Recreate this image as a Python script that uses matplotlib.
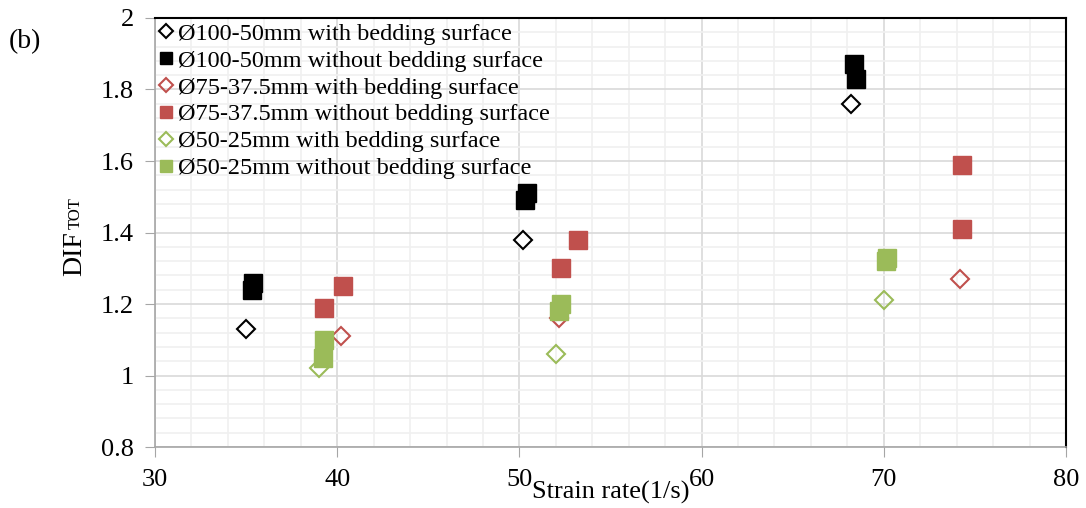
import matplotlib.pyplot as plt
from matplotlib.ticker import MultipleLocator, FuncFormatter

plt.rcParams['font.family'] = ['Liberation Serif', 'DejaVu Serif']

# strain rate (1/s) and DIF_TOT
x_100_with = [35.0, 50.2, 68.2]
y_100_with = [1.13, 1.38, 1.76]
x_100_without = [35.3, 35.4, 50.3, 50.4, 68.35, 68.45]
y_100_without = [1.24, 1.26, 1.49, 1.51, 1.87, 1.83]

x_75_with = [40.2, 52.2, 74.2]
y_75_with = [1.11, 1.16, 1.27]
x_75_without = [39.3, 40.3, 52.3, 53.2, 74.3, 74.3]
y_75_without = [1.19, 1.25, 1.30, 1.38, 1.59, 1.41]

x_50_with = [39.0, 52.0, 70.0]
y_50_with = [1.02, 1.06, 1.21]
x_50_without = [39.2, 39.3, 52.2, 52.3, 70.1, 70.2]
y_50_without = [1.05, 1.10, 1.18, 1.20, 1.32, 1.33]

labels = ['Ø100-50mm with bedding surface',
          'Ø100-50mm without bedding surface',
          'Ø75-37.5mm with bedding surface',
          'Ø75-37.5mm without bedding surface',
          'Ø50-25mm with bedding surface',
          'Ø50-25mm without bedding surface']

red = '#c0504d'
green = '#9bbb59'

fig = plt.figure(figsize=(10.86, 5.08), dpi=100)
ax = fig.add_axes([0.1427, 0.120, 0.8389, 0.8446])

ax.plot(x_100_with, y_100_with, 'D', ms=9.5, mfc='white', mec='black', mew=1.5, label=labels[0])
ax.plot(x_100_without, y_100_without, 's', ms=12.5, color='black', label=labels[1])
ax.plot(x_75_with, y_75_with, 'D', ms=9.5, mfc='none', mec=red, mew=1.5, label=labels[2])
ax.plot(x_75_without, y_75_without, 's', ms=12.5, color=red, label=labels[3])
ax.plot(x_50_with, y_50_with, 'D', ms=9.5, mfc='none', mec=green, mew=1.5, label=labels[4])
ax.plot(x_50_without, y_50_without, 's', ms=12.5, color=green, label=labels[5])

ax.set_xlim(30, 80)
ax.set_ylim(0.8, 2.0)
ax.xaxis.set_major_locator(MultipleLocator(10))
ax.xaxis.set_minor_locator(MultipleLocator(2))
ax.yaxis.set_major_locator(MultipleLocator(0.2))
ax.yaxis.set_minor_locator(MultipleLocator(0.04))
ax.yaxis.set_major_formatter(FuncFormatter(lambda v, p: ('%.1f' % v).rstrip('0').rstrip('.')))

ax.grid(which='major', color='#d9d9d9', lw=1.2)
ax.grid(which='minor', color='#f0f0f0', lw=1.2)
ax.set_axisbelow(True)

for s in ['left', 'bottom']:
    ax.spines[s].set_color('#a6a6a6')
    ax.spines[s].set_linewidth(1.2)
for s in ['top', 'right']:
    ax.spines[s].set_color('black')
    ax.spines[s].set_linewidth(1.5)

ax.tick_params(which='major', direction='out', length=7, color='#a6a6a6', labelsize=19)
ax.tick_params(axis='x', pad=9)
ax.tick_params(axis='y', pad=8)
ax.tick_params(which='minor', length=0)

fig.text(0.562, 0.03, 'Strain rate(1/s)', fontsize=19, ha='center', va='center')
fig.text(87 / 1086, 1 - 276 / 508, 'DIF', fontsize=20, rotation=90, ha='right', va='bottom')
fig.text(84 / 1086, 1 - 229 / 508, 'TOT', fontsize=12, rotation=90, ha='right', va='bottom')
fig.text(25 / 1086, 1 - 42 / 508, '(b)', fontsize=20, ha='center', va='center')

ax.legend(loc='upper left', frameon=False, fontsize=17.5, handlelength=0.5, handletextpad=0.25,
          labelspacing=0.2, borderaxespad=0.1, borderpad=0.1, markerscale=0.7)

fig.savefig('out.png', dpi=100)
